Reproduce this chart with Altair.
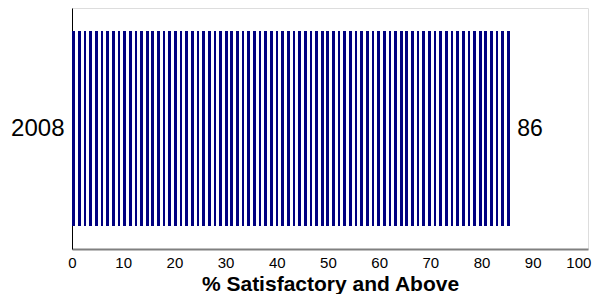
import altair as alt
import pandas as pd

years = ["2008"]
values = [86]
x_ticks = [0, 10, 20, 30, 40, 50, 60, 70, 80, 90, 100]

df = pd.DataFrame({"year": years, "value": values})

N_STRIPES = 78
DARK = "#000080"
stops = []
for i in range(N_STRIPES):
    s = i / N_STRIPES
    d = s + 0.56 / N_STRIPES
    e = (i + 1) / N_STRIPES
    stops += [
        alt.GradientStop(color="#ffffff", offset=s),
        alt.GradientStop(color="#ffffff", offset=s + 0.08 / N_STRIPES),
        alt.GradientStop(color=DARK, offset=s + 0.08 / N_STRIPES),
        alt.GradientStop(color=DARK, offset=d),
        alt.GradientStop(color="#ffffff", offset=d),
        alt.GradientStop(color="#ffffff", offset=e),
    ]
stripes = alt.LinearGradient(gradient="linear", stops=stops, x1=0, x2=1, y1=0, y2=0)

FONT = "Liberation Sans"

x_enc = alt.X(
    "value:Q",
    scale=alt.Scale(domain=[0, 100.8], nice=False, zero=True),
    axis=alt.Axis(
        values=x_ticks,
        title="% Satisfactory and Above",
        titleFont=FONT,
        titleFontSize=21,
        titleFontWeight="bold",
        titleColor="black",
        titlePadding=3,
        labelFont=FONT,
        labelFontSize=15,
        labelColor="black",
        labelPadding=6,
        labelAlign={"expr": "datum.value === 100 ? 'right' : 'center'"},
        labelOffset={"expr": "datum.value === 100 ? 7 : 0"},
        ticks=False,
        grid=False,
        domainColor="#808080",
        domainWidth=2,
        labelFlush=False,
    ),
)
y_enc = alt.Y(
    "year:N",
    scale=alt.Scale(paddingInner=0, paddingOuter=0.118),
    axis=alt.Axis(
        title=None,
        labelFont=FONT,
        labelFontSize=24,
        labelColor="black",
        labelPadding=8,
        ticks=False,
        grid=False,
        domainColor="black",
        domainWidth=1,
    ),
)

bars = alt.Chart(df).mark_bar(color=stripes, opacity=1).encode(x=x_enc, y=y_enc)
labels = alt.Chart(df).mark_text(
    align="left", baseline="middle", dx=5, font=FONT, fontSize=23, color="black"
).encode(x="value:Q", y="year:N", text="value:Q")

chart = (
    alt.layer(bars, labels)
    .properties(
        width=516,
        height=241,
        autosize=alt.AutoSizeParams(type="none"),
        padding={"left": 64, "top": 0, "right": 4, "bottom": 45},
    )
    .configure_view(stroke=None)
    .configure(background="white")
)

chart.save("out.html", embed_options={"renderer": "svg", "actions": False})
